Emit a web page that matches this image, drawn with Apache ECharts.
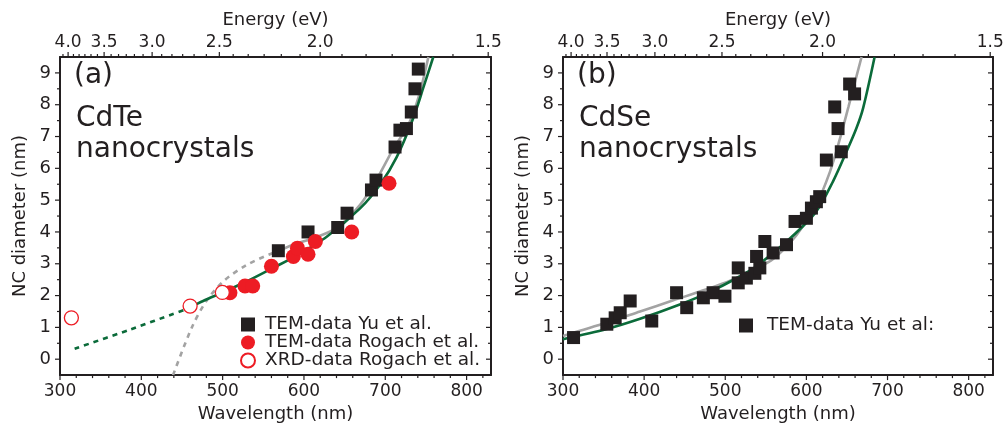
<!DOCTYPE html>
<html><head><meta charset="utf-8">
<script src="https://cdn.jsdelivr.net/npm/echarts@6/dist/echarts.min.js"></script>
<style>html,body{margin:0;padding:0;background:#fff}#c{width:1005px;height:428px}</style>
</head><body><div id="c"></div>
<script>
const FONT = '"DejaVu Sans", "Noto Sans", sans-serif';
const INK = '#231f20';
const RED = '#ed1c24';
const GREEN = '#0b6b3a';
const GRAY = '#a3a3a3';
const HC = 1239.84;

// ---- tick definitions ----
const wavelengthMajor = [300, 400, 500, 600, 700, 800];
const wavelengthMinor = [320, 340, 360, 380, 420, 440, 460, 480, 520, 540, 560, 580, 620, 640, 660, 680, 720, 740, 760, 780, 820];
const diameterMajor = [0, 1, 2, 3, 4, 5, 6, 7, 8, 9];
const diameterMinor = [0.5, 1.5, 2.5, 3.5, 4.5, 5.5, 6.5, 7.5, 8.5];
const energyMajor = [4.0, 3.5, 3.0, 2.5, 2.0, 1.5];
const energyMajorLabels = ['4.0', '3.5', '3.0', '2.5', '2.0', '1.5'];
const energyMinor = [4.083, 3.917, 3.833, 3.75, 3.667, 3.583, 3.417, 3.333, 3.25, 3.167, 3.083,
  2.917, 2.833, 2.75, 2.667, 2.583, 2.417, 2.333, 2.25, 2.167, 2.083,
  1.917, 1.833, 1.75, 1.667, 1.583];

// ---- panel (a) CdTe ----
const cdteYuWl = [568.5, 605, 641.5, 653, 683, 688.6, 712, 718, 726, 732, 736.5, 740.6];
const cdteYuD = [3.41, 4.0, 4.14, 4.59, 5.32, 5.63, 6.67, 7.2, 7.25, 7.77, 8.5, 9.12];
const cdteRogTemWl = [509, 527.5, 537, 560, 587, 592, 605, 614, 658.7, 704.6];
const cdteRogTemD = [2.09, 2.3, 2.3, 2.92, 3.23, 3.49, 3.3, 3.7, 4.0, 5.53];
const cdteRogXrdWl = [314, 460, 499.6];
const cdteRogXrdD = [1.3, 1.67, 2.1];
const cdteGreenDashWl = [318, 386, 456];
const cdteGreenDashD = [0.33, 0.93, 1.58];
const cdteGreenWl = [456, 476, 500, 530, 562, 587, 628, 669, 694, 714, 734, 747, 759];
const cdteGreenD = [1.58, 1.83, 2.1, 2.45, 2.87, 3.2, 3.85, 4.74, 5.5, 6.35, 7.55, 8.55, 9.5];
const cdteGrayDashWl = [439, 462, 480, 501, 530, 562];
const cdteGrayDashD = [-0.5, 0.99, 1.83, 2.45, 2.97, 3.34];
const cdteGrayWl = [562, 587, 612, 640, 669, 690, 710, 728, 741, 753];
const cdteGrayD = [3.34, 3.6, 3.81, 4.12, 4.85, 5.68, 6.62, 7.35, 8.25, 9.5];

// ---- panel (b) CdSe ----
const cdseYuWl = [313, 354, 364.3, 370.5, 382.8, 409.4, 440, 452.5, 473, 485, 499.6, 516, 526, 536.5, 542.6,
  516, 538.6, 548.8, 559, 575.5, 586, 600, 606.2, 612.3, 616.4, 624.6, 643, 639, 634.9, 653.3, 659.4];
const cdseYuD = [0.68, 1.1, 1.3, 1.46, 1.83, 1.2, 2.09, 1.62, 1.93, 2.09, 1.98, 2.4, 2.55, 2.7, 2.87,
  2.87, 3.23, 3.7, 3.34, 3.6, 4.33, 4.43, 4.75, 4.95, 5.11, 6.26, 6.52, 7.25, 7.93, 8.65, 8.34];
const cdseGreenWl = [300, 354, 395, 444, 477, 518, 540, 580, 612, 633, 649, 661.5, 670, 684];
const cdseGreenD = [0.63, 0.95, 1.27, 1.72, 2.07, 2.6, 2.95, 3.8, 4.64, 5.6, 6.5, 7.25, 7.9, 9.49];
const cdseGrayWl = [300, 354, 395, 436, 477, 506, 539, 559, 588, 612, 629, 641, 652, 668];
const cdseGrayD = [0.73, 1.15, 1.5, 1.85, 2.2, 2.47, 2.87, 3.15, 3.91, 4.85, 5.89, 6.9, 7.95, 9.5];

const X_MIN = 300, X_MAX = 830, Y_MIN = -0.5, Y_MAX = 9.5;
const zip = (a, b) => a.map((v, i) => [v, b[i]]);

function tickSeries(g, values, kind, len, withLabel) {
  return {
    type: 'custom', xAxisIndex: g * 2, yAxisIndex: g * 2, clip: false, silent: true, z: 10,
    data: values.map((v, i) => [v, i]),
    renderItem: function (params, api) {
      const v = api.value(0);
      const idx = api.value(1);
      let p, shape;
      if (kind === 'left') { p = api.coord([X_MIN, v]); shape = { x1: p[0] - len, y1: p[1], x2: p[0], y2: p[1] }; }
      else if (kind === 'right') { p = api.coord([X_MAX, v]); shape = { x1: p[0] - len, y1: p[1], x2: p[0], y2: p[1] }; }
      else if (kind === 'bottom') { p = api.coord([v, Y_MIN]); shape = { x1: p[0], y1: p[1], x2: p[0], y2: p[1] + len }; }
      else { p = api.coord([HC / v, Y_MAX]); shape = { x1: p[0], y1: p[1] - len, x2: p[0], y2: p[1] }; }
      const children = [{ type: 'line', shape: shape, style: { stroke: INK, lineWidth: 1.2 } }];
      if (withLabel) {
        children.push({ type: 'text', x: p[0], y: p[1] - 14,
          style: { text: energyMajorLabels[idx], fill: INK, font: '17px ' + FONT, textAlign: 'center', textVerticalAlign: 'middle' } });
      }
      return { type: 'group', children: children };
    }
  };
}

function axesFor(g) {
  const lineStyle = { show: true, onZero: false, lineStyle: { color: INK, width: 2 } };
  const xs = [
    { gridIndex: g, type: 'value', min: X_MIN, max: X_MAX, interval: 100, position: 'bottom',
      name: 'Wavelength (nm)', nameLocation: 'middle', nameGap: 27,
      nameTextStyle: { fontFamily: FONT, fontSize: 18, color: INK },
      axisLine: lineStyle, axisTick: { show: false },
      axisLabel: { fontFamily: FONT, fontSize: 17, color: INK, margin: 8, formatter: v => (v % 100 === 0 ? String(v) : '') },
      splitLine: { show: false } },
    { gridIndex: g, type: 'value', min: X_MIN, max: X_MAX, interval: 100, position: 'top',
      name: 'Energy (eV)', nameLocation: 'middle', nameGap: 28,
      nameTextStyle: { fontFamily: FONT, fontSize: 18, color: INK },
      axisLine: lineStyle, axisTick: { show: false },
      axisLabel: { show: false }, splitLine: { show: false } }
  ];
  const ys = [
    { gridIndex: g, type: 'value', min: Y_MIN, max: Y_MAX, interval: 0.5, position: 'left',
      name: 'NC diameter (nm)', nameLocation: 'middle', nameGap: 31,
      nameTextStyle: { fontFamily: FONT, fontSize: 18, color: INK },
      axisLine: lineStyle, axisTick: { show: false },
      axisLabel: { fontFamily: FONT, fontSize: 18, color: INK, margin: 9, formatter: v => (Number.isInteger(v) ? String(v) : '') },
      splitLine: { show: false } },
    { gridIndex: g, type: 'value', min: Y_MIN, max: Y_MAX, interval: 0.5, position: 'right',
      axisLine: lineStyle, axisTick: { show: false },
      axisLabel: { show: false }, splitLine: { show: false } }
  ];
  return { xs, ys };
}

const a0 = axesFor(0), a1 = axesFor(1);

function scatter(g, name, wl, d, symbol, size, style) {
  return { type: 'scatter', name: name, xAxisIndex: g * 2, yAxisIndex: g * 2, data: zip(wl, d),
    symbol: symbol, symbolSize: size, itemStyle: Object.assign({ opacity: 1 }, style), z: 5 };
}
function line(g, wl, d, color, dashed) {
  return { type: 'line', xAxisIndex: g * 2, yAxisIndex: g * 2, data: zip(wl, d), smooth: 0.3,
    showSymbol: false, symbol: 'none', lineStyle: { color: color, width: 2.6, type: dashed ? [5, 5] : 'solid' }, z: 3, silent: true };
}

const series = [
  line(0, cdteGrayDashWl, cdteGrayDashD, GRAY, true),
  line(0, cdteGrayWl, cdteGrayD, GRAY, false),
  line(0, cdteGreenDashWl, cdteGreenDashD, GREEN, true),
  line(0, cdteGreenWl, cdteGreenD, GREEN, false),
  scatter(0, 'TEM-data Yu et al.', cdteYuWl, cdteYuD, 'rect', 13, { color: INK }),
  scatter(0, 'TEM-data Rogach et al.', cdteRogTemWl, cdteRogTemD, 'circle', 15, { color: RED }),
  scatter(0, 'XRD-data Rogach et al.', cdteRogXrdWl, cdteRogXrdD, 'circle', 14, { color: '#ffffff', borderColor: RED, borderWidth: 1.3 }),
  line(1, cdseGrayWl, cdseGrayD, GRAY, false),
  line(1, cdseGreenWl, cdseGreenD, GREEN, false),
  scatter(1, 'TEM-data Yu et al:', cdseYuWl, cdseYuD, 'rect', 13, { color: INK }),
];
[0, 1].forEach(g => {
  series.push(tickSeries(g, diameterMajor, 'left', 5, false));
  series.push(tickSeries(g, diameterMinor, 'left', 3, false));
  series.push(tickSeries(g, diameterMajor, 'right', 5, false));
  series.push(tickSeries(g, diameterMinor, 'right', 3, false));
  series.push(tickSeries(g, wavelengthMajor, 'bottom', 5, false));
  series.push(tickSeries(g, wavelengthMinor, 'bottom', 3, false));
  series.push(tickSeries(g, energyMajor, 'top', 5, true));
  series.push(tickSeries(g, energyMinor, 'top', 3, false));
});

function label(x, y, text) {
  return { type: 'text', left: x, top: y, style: { text: text, fill: INK, font: '28px ' + FONT } };
}

const option = {
  animation: false,
  backgroundColor: '#ffffff',
  grid: [
    { left: 60, top: 57, width: 431, height: 321 },
    { left: 563, top: 57, width: 430, height: 321 }
  ],
  xAxis: [...a0.xs, ...a1.xs],
  yAxis: [...a0.ys, ...a1.ys],
  legend: [
    { data: ['TEM-data Yu et al.', 'TEM-data Rogach et al.', 'XRD-data Rogach et al.'], orient: 'vertical',
      left: 235, top: 310, itemWidth: 14, itemHeight: 14, itemGap: -1, selectedMode: false,
      textStyle: { fontFamily: FONT, fontSize: 18.5, color: INK, padding: [0, 0, 0, 5] } },
    { data: ['TEM-data Yu et al:'], orient: 'vertical', left: 734, top: 311, itemWidth: 14, itemHeight: 14,
      selectedMode: false, textStyle: { fontFamily: FONT, fontSize: 18.5, color: INK, padding: [0, 0, 0, 9] } }
  ],
  graphic: [
    label(74, 62, '(a)'), label(76, 105, 'CdTe'), label(76, 136, 'nanocrystals'),
    label(577, 62, '(b)'), label(579, 105, 'CdSe'), label(579, 136, 'nanocrystals')
  ],
  series: series
};

const chart = echarts.init(document.getElementById('c'), null, { renderer: 'canvas' });
chart.setOption(option);
</script>
</body></html>
